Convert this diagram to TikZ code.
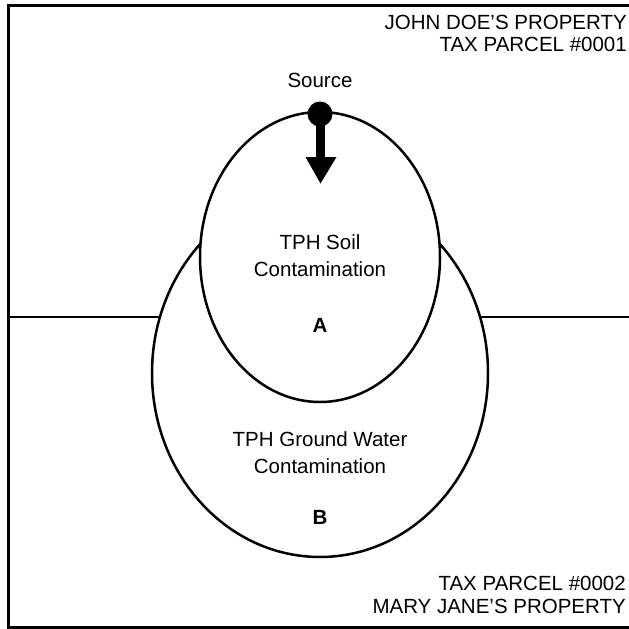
\documentclass[tikz,border=0pt]{standalone}
\usepackage{fontspec}
\setmainfont{Liberation Sans}
\usetikzlibrary{shapes.geometric}
\begin{document}
\begin{tikzpicture}[x=1pt,y=-1pt,
  lbl/.style={font=\fontsize{20.5}{22}\selectfont, inner sep=0pt},
  rlbl/.style={lbl, anchor=base east},
  zone/.style={ellipse, draw=black, fill=white, line width=2.5pt, inner sep=0pt},
  bound/.style={line width=3pt},
  divider/.style={line width=2pt}]
\useasboundingbox (0,0) rectangle (629,629);
% property frame (right side runs past the page edge)
\draw[bound] (8,5) rectangle (640,627);
% parcel boundary
\coordinate (pl) at (8,317);
\coordinate (pr) at (640,317);
\draw[divider] (pl) -- (pr);
% plume outlines
\node[zone, minimum width=336pt, minimum height=368pt] (gw) at (320,373) {};
\node[zone, minimum width=240pt, minimum height=290pt] (soil) at (320,257) {};
% release point and direction of migration
\fill (320,114) circle (12.5pt);
\fill (316,114) rectangle (325,158);
\fill (305.5,157) -- (336.5,157) -- (320.5,183.5) -- cycle;
\node[lbl] (src) at (320,80) {Source};
% labels
\node[rlbl] (owner1) at (627,29) {JOHN DOE’S PROPERTY};
\node[rlbl] (parcel1) at (627,51) {TAX PARCEL \#0001};
\node[rlbl] (parcel2) at (626,590) {TAX PARCEL \#0002};
\node[rlbl] (owner2) at (626,613) {MARY JANE’S PROPERTY};
\node[lbl, align=center] (soiltxt) at (320,256) {TPH Soil\\[5pt]Contamination};
\node[lbl] (a) at (320,325) {\bfseries A};
\node[lbl, align=center] (gwtxt) at (320,453) {TPH Ground Water\\[5pt]Contamination};
\node[lbl] (b) at (320,517) {\bfseries B};
\end{tikzpicture}
\end{document}
